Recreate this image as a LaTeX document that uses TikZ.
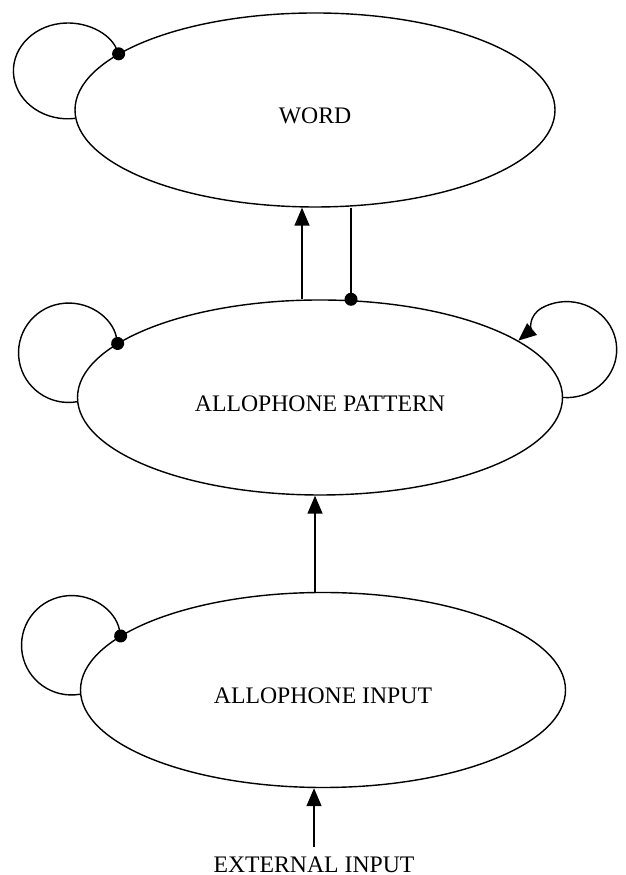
\documentclass[tikz,border=0pt]{standalone}
\usepackage{fontspec}
\setmainfont{Liberation Serif}
\usepackage{tikz}
\usetikzlibrary{shapes,arrows.meta,positioning}

\begin{document}
\begin{tikzpicture}[line width=0.8pt,
        state/.style={ellipse, draw, inner sep=0pt, minimum width=9.7cm, minimum height=3.9cm, text height=15.7pt, text depth=0pt, font=\fontsize{13.5}{16}\selectfont},
        ext/.style={inner sep=5pt, font=\fontsize{13.5}{16}\selectfont},
        tri/.style={-{Triangle[width=3mm,length=3.6mm]}},
        dot/.style={-{Circle[length=2.6mm]}, shorten >=-1.3mm},
    ]
        \useasboundingbox (0,0) rectangle (12.5,17.5);

        % Layers
        \node[state, minimum width=9.6cm, minimum height=3.88cm] (word) at (6.3, 15.3) {WORD};
        \node[state] (pattern) at (6.4, 9.55) {ALLOPHONE PATTERN};
        \node[state] (input) at (6.46, 3.7) {ALLOPHONE INPUT};
        \node[ext] (extin) at (6.28, 0.21) {EXTERNAL INPUT};

        % Connections between layers
        \draw[tri] ([xshift=-0.36cm]pattern.north) -- ([xshift=-0.36cm]pattern.north |- word.south);
        \draw[dot] ([xshift=0.62cm]pattern.north |- word.south) -- ([xshift=0.62cm]pattern.north);
        \draw[tri] ([xshift=-0.16cm]input.north) -- ([xshift=-0.16cm]input.north |- pattern.south);
        \draw[tri] (extin.north) -- (extin.north |- input.south);

        % Self loops
        \draw[dot] (word.182) arc[start angle=277.8, end angle=20.9, x radius=1.088cm, y radius=0.958cm];
        \draw[dot] (pattern.181) arc[start angle=279.8, end angle=10.8, x radius=1cm, y radius=0.994cm];
        \draw[tri] (pattern.0) arc[start angle=-94, end angle=120, x radius=1cm, y radius=0.96cm]
            to[out=210, in=40] (pattern.16);
        \draw[dot] (input.181) arc[start angle=279.8, end angle=10.8, x radius=1cm, y radius=0.994cm];
    \end{tikzpicture}
\end{document}
